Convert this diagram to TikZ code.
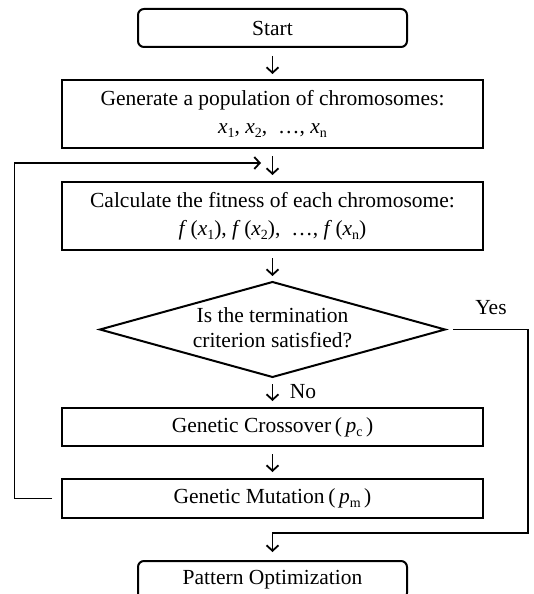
\documentclass[tikz,border=0pt]{standalone}
\usepackage{fontspec}
\setmainfont{Liberation Serif}
\usetikzlibrary{arrows.meta}
\newcommand{\lsub}[1]{\raisebox{-0.4ex}{\fontsize{14}{14}\selectfont #1}}
\tikzset{
  txt/.style={font=\fontsize{21.5}{28}\selectfont, align=center, inner sep=0pt},
  box/.style={txt, draw, line width=2pt, minimum width=421pt},
  rbox/.style={txt, draw, line width=2pt, minimum width=269pt, minimum height=38pt, rounded corners=6pt},
  arr/.style={line width=1.8pt, -{Straight Barb[length=5.5pt,width=12pt]}, shorten <=7pt, shorten >=6pt},
  lbl/.style={font=\fontsize{21.5}{24}\selectfont, inner sep=0pt}
}
\begin{document}
\begin{tikzpicture}[x=1pt,y=-1pt]
\clip (0,0) rectangle (534,594);
\node[rbox] (start) at (272.5,28) {Start};
\node[box, minimum height=68pt] (gen) at (272.5,114)
  {Generate a population of chromosomes:\\
   \textit{x}\lsub{1}, \textit{x}\lsub{2}, \ …, \textit{x}\lsub{n}};
\node[box, minimum height=68pt] (calc) at (272.5,216)
  {Calculate the fitness of each chromosome:\\
   \textit{f}\,(\textit{x}\lsub{1}), \textit{f}\,(\textit{x}\lsub{2}), \ …, \textit{f}\,(\textit{x}\lsub{n})};
\coordinate (dT) at (272.5,282);
\coordinate (dR) at (445,329.5);
\coordinate (dB) at (272.5,377);
\coordinate (dL) at (100,329.5);
\draw[line width=2pt, line join=miter] (dT) -- (dR) -- (dB) -- (dL) -- cycle;
\node[txt, font=\fontsize{21.5}{25}\selectfont] (q) at (272.5,328) {Is the termination\\criterion satisfied?};
\node[box, minimum height=38pt] (cross) at (272.5,427)
  {Genetic Crossover\,(\,\textit{p}\lsub{c}\,)};
\node[box, minimum height=39pt] (mut) at (272.5,498.5)
  {Genetic Mutation\,(\,\textit{p}\lsub{m}\,)};
\node[rbox] (pat) at (272.5,580) {Pattern Optimization};
\coordinate (fbL) at (14.5,0);
\coordinate (fbT) at (261,163);
\coordinate (yX) at (528,0);
\coordinate (yB) at (272.5,533);
\node[lbl] (yes) at (491,308) {Yes};
\node[lbl] (no) at (303,392) {No};
\draw[arr, shorten <=8pt, shorten >=5pt] (start) -- (gen);
\draw[arr] (gen) -- (calc);
\draw[arr] (calc) -- (dT);
\draw[arr] (dB) -- (cross);
\draw[arr] (cross) -- (mut);
\draw[arr, shorten <=9pt, shorten >=0pt] (mut.west) -- (mut.west -| fbL) |- (fbT);
\draw[arr, shorten <=8pt, shorten >=8pt] (dR) -- (dR -| yX) -- (yX |- yB) -- (yB) -- (pat.north);
\end{tikzpicture}
\end{document}
